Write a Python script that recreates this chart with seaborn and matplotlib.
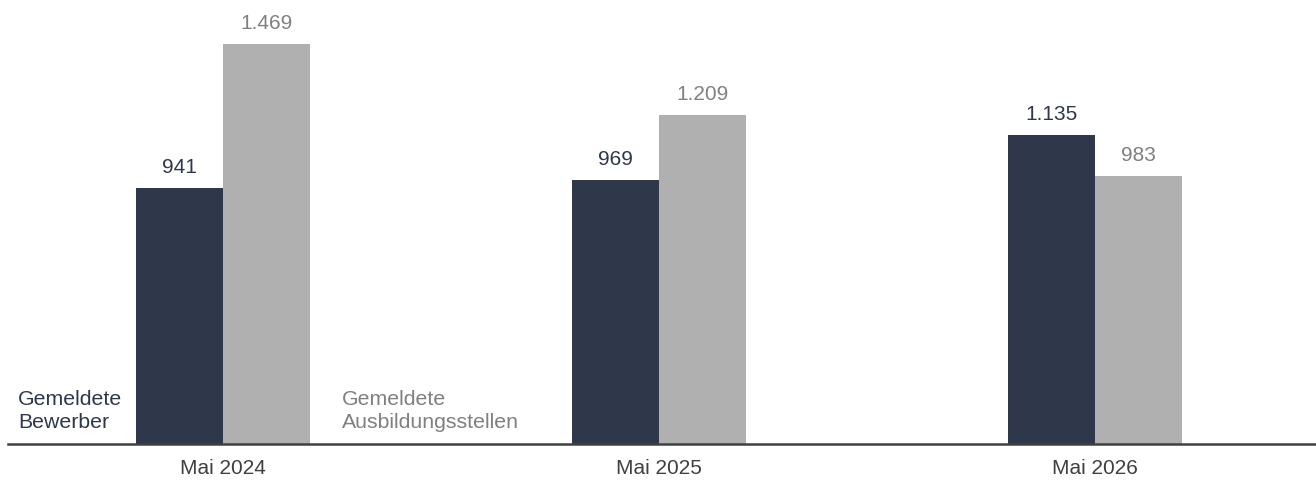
import pandas as pd
import matplotlib.pyplot as plt
import seaborn as sns

# Data
months = ["Mai 2024", "Mai 2025", "Mai 2026"]
bewerber = [941, 969, 1135]
stellen = [1469, 1209, 983]
series = ["Gemeldete\nBewerber", "Gemeldete\nAusbildungsstellen"]

dark = "#2f374b"
grey = "#b0b0b0"
grey_text = "#808080"

df = pd.DataFrame({
    "month": months * 2,
    "value": bewerber + stellen,
    "series": [series[0]] * 3 + [series[1]] * 3,
})

sns.set_theme(style="white")
plt.rcParams["font.family"] = ["Liberation Sans", "DejaVu Sans"]

fig = plt.figure(figsize=(13.16, 4.81), dpi=100)
ax = fig.add_axes([0, 36 / 481, 1, 445 / 481])

sns.barplot(data=df, x="month", y="value", hue="series", order=months,
            hue_order=series, palette=[dark, grey], width=0.4,
            saturation=1, legend=False, linewidth=0, ax=ax)

ax.set_xlim(-0.5115, 2.507)
ax.set_ylim(0, 1634)

def fmt(v):
    return f"{v:,}".replace(",", ".")

for cont, col in zip(ax.containers, [dark, grey_text]):
    ax.bar_label(cont, labels=[fmt(int(v)) for v in cont.datavalues],
                 padding=8.5, fontsize=15, color=col)

for s in ["top", "right", "left"]:
    ax.spines[s].set_visible(False)
ax.spines["bottom"].set_color("#404040")
ax.spines["bottom"].set_linewidth(1.8)
ax.spines["bottom"].set_bounds(-0.493, 2.507)

ax.set_yticks([])
ax.set_xlabel("")
ax.set_ylabel("")
ax.tick_params(axis="x", length=0, pad=10, labelsize=15, labelcolor="#404040")

# series labels
ax.text(-0.47, 62, series[0], fontsize=15.3, color=dark, va="baseline",
        linespacing=1.3)
ax.text(0.273, 62, series[1], fontsize=15.3, color=grey_text, va="baseline",
        linespacing=1.3)

fig.savefig("out.png", dpi=100)
